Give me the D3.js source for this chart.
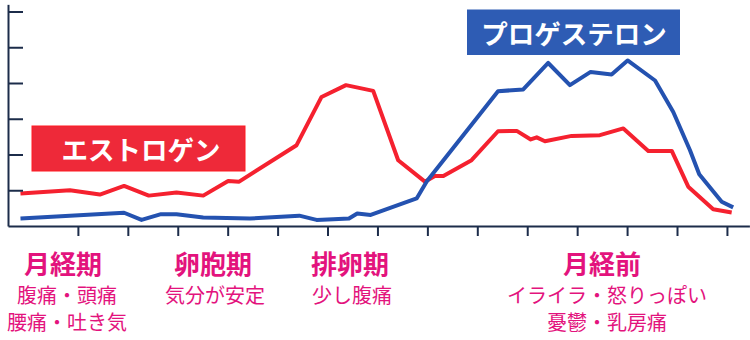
<!DOCTYPE html>
<html>
<head>
<meta charset="utf-8">
<script src="https://cdn.jsdelivr.net/npm/d3@7"></script>
<style>
  html, body { margin: 0; padding: 0; background: #ffffff; }
  svg { display: block; }
  text { font-family: "Noto Sans CJK JP", "Noto Sans", sans-serif; }
</style>
</head>
<body>
<svg id="chart" width="750" height="340"></svg>
<script>
// ---- Data (cycle day, relative hormone level) ----
const estrogenDays = [-0.30, 1.68, 2.88, 3.85, 4.84, 5.95, 7.02, 8.02, 8.46, 10.76, 11.76, 12.74, 13.83, 14.83, 15.90, 16.30, 16.64, 17.77, 18.83, 19.58, 20.14, 20.38, 20.71, 21.78, 22.91, 23.85, 24.85, 25.79, 26.45, 27.45, 28.19];
const estrogenValues = [0.91, 1.00, 0.88, 1.12, 0.85, 0.94, 0.85, 1.26, 1.24, 2.26, 3.61, 3.94, 3.78, 1.84, 1.24, 1.40, 1.40, 1.84, 2.65, 2.66, 2.42, 2.48, 2.37, 2.52, 2.54, 2.73, 2.10, 2.10, 1.10, 0.47, 0.38];

const progesteroneDays = [-0.30, 3.85, 4.55, 5.33, 5.95, 7.02, 8.89, 10.87, 11.56, 12.23, 12.86, 13.19, 13.73, 15.57, 15.98, 18.83, 19.84, 20.84, 21.71, 22.54, 23.38, 24.02, 25.12, 25.85, 26.52, 26.89, 27.79, 28.25];
const progesteroneValues = [0.21, 0.37, 0.17, 0.33, 0.33, 0.24, 0.21, 0.29, 0.17, 0.19, 0.21, 0.35, 0.31, 0.77, 1.25, 3.77, 3.82, 4.56, 3.94, 4.31, 4.24, 4.63, 4.07, 3.19, 2.12, 1.45, 0.68, 0.52];

const xTickValues = [2, 4, 6, 8, 10, 12, 14, 16, 18, 20, 22, 24, 26, 28];
const yTickValues = [1, 2, 3, 4, 5, 6];

const seriesNames = ["エストロゲン", "プロゲステロン"];
const seriesColors = ["#f5212f", "#2452b0"];
const legendFills = ["#ee2939", "#2e5cb4"];

const phaseNames = ["月経期", "卵胞期", "排卵期", "月経前"];
const phaseSymptoms = [
  ["腹痛・頭痛", "腰痛・吐き気"],
  ["気分が安定"],
  ["少し腹痛"],
  ["イライラ・怒りっぽい", "憂鬱・乳房痛"]
];
const phaseCenters = [63, 213, 350, 602];
const symptomCenters = [67, 215, 352, 607];

// ---- Chart ----
const svg = d3.select("#chart");
const axisColor = "#1c2c4a";

const x = d3.scaleLinear().domain([-0.8, 28.9]).range([8, 749.4]);
const y = d3.scaleLinear().domain([0, 6.2]).range([226, 4.35]);

// Lines
const line = d3.line().x(d => x(d[0])).y(d => y(d[1]));
const estrogen = d3.zip(estrogenDays, estrogenValues);
const progesterone = d3.zip(progesteroneDays, progesteroneValues);

svg.append("path").datum(estrogen)
  .attr("d", line).attr("fill", "none")
  .attr("stroke", seriesColors[0]).attr("stroke-width", 4)
  .attr("stroke-linejoin", "round");

svg.append("path").datum(progesterone)
  .attr("d", line).attr("fill", "none")
  .attr("stroke", seriesColors[1]).attr("stroke-width", 4)
  .attr("stroke-linejoin", "round");

// Axes
const yAxis = d3.axisLeft(y).tickValues(yTickValues).tickSizeInner(-15).tickSizeOuter(0).tickFormat("");
const xAxis = d3.axisBottom(x).tickValues(xTickValues).tickSizeInner(10).tickSizeOuter(0).tickFormat("");

const gy = svg.append("g").attr("transform", `translate(${x(-0.8)},0)`).call(yAxis);
const gx = svg.append("g").attr("transform", `translate(0,${y(0)})`).call(xAxis);
[gx, gy].forEach(g => {
  g.selectAll(".domain").attr("stroke", axisColor).attr("stroke-width", 2);
  g.selectAll(".tick line").attr("stroke", axisColor).attr("stroke-width", 2);
});

// Legend boxes
const legendBoxes = [
  { x0: 32, y0: 126, w: 213, h: 45, tx: 141, ty: 148.5 },
  { x0: 467, y0: 9.5, w: 213, h: 45.5, tx: 574, ty: 32 }
];
legendBoxes.forEach((b, i) => {
  svg.append("rect").attr("x", b.x0).attr("y", b.y0).attr("width", b.w).attr("height", b.h)
    .attr("fill", legendFills[i])
    .attr("stroke", i === 0 ? "#ff1a22" : "none").attr("stroke-width", 1);
  svg.append("text").attr("x", b.tx).attr("y", b.ty)
    .attr("text-anchor", "middle").attr("dominant-baseline", "central")
    .attr("fill", "#ffffff").attr("font-size", 26.5).attr("font-weight", 700)
    .text(seriesNames[i]);
});

// Phase labels
const pink = "#e3137d";
phaseNames.forEach((name, i) => {
  svg.append("text").attr("x", phaseCenters[i]).attr("y", 262.5)
    .attr("text-anchor", "middle").attr("dominant-baseline", "central")
    .attr("fill", pink).attr("font-size", 26).attr("font-weight", 700)
    .text(name);
  phaseSymptoms[i].forEach((s, j) => {
    svg.append("text").attr("x", symptomCenters[i]).attr("y", 294 + j * 27)
      .attr("text-anchor", "middle").attr("dominant-baseline", "central")
      .attr("fill", pink).attr("font-size", 20).attr("font-weight", 400)
      .text(s);
  });
});
</script>
</body>
</html>
